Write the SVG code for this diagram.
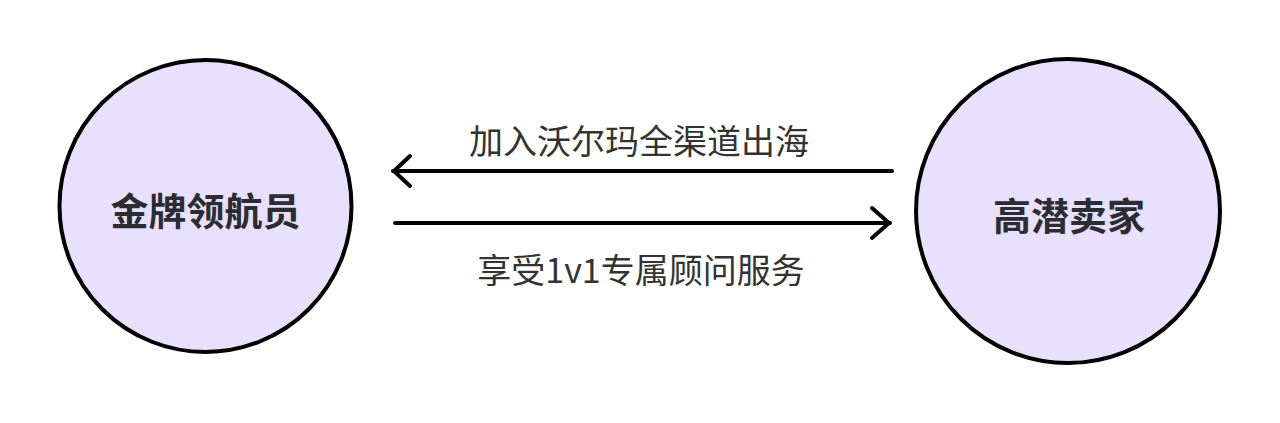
<svg xmlns="http://www.w3.org/2000/svg" width="1280" height="423" viewBox="0 0 1280 423">
<style>
.node circle{fill:#E8E0FD;stroke:#000;stroke-width:4}
.node text{font-family:"Noto Sans CJK SC","Noto Sans",sans-serif;font-weight:bold;font-size:38px;fill:#2B2D33;text-anchor:middle;dominant-baseline:central}
.conn line{stroke:#000;stroke-width:4;stroke-linecap:round}
.conn path{fill:none;stroke:#000;stroke-width:4;stroke-linecap:round;stroke-linejoin:round}
.lbl{font-family:"Noto Sans CJK SC","Noto Sans",sans-serif;font-size:34px;fill:#333;text-anchor:middle;dominant-baseline:central}
</style>
<rect width="1280" height="423" fill="#fff"/>
<g id="node-gold" class="node">
<circle cx="205.5" cy="206" r="146"/>
<text x="205.5" y="208">金牌领航员</text>
</g>
<g id="node-seller" class="node">
<circle cx="1068" cy="211" r="152"/>
<text x="1069" y="213">高潜卖家</text>
</g>
<g id="connectors" class="conn">
<line x1="393" y1="171" x2="892" y2="171"/>
<path d="M410 156 L394 171 L410 186"/>
<line x1="395" y1="223" x2="890" y2="223"/>
<path d="M872 208 L889 223 L872 238"/>
<text class="lbl" x="639" y="139">加入沃尔玛全渠道出海</text>
<text class="lbl" x="641" y="268">享受1v1专属顾问服务</text>
</g>
</svg>
